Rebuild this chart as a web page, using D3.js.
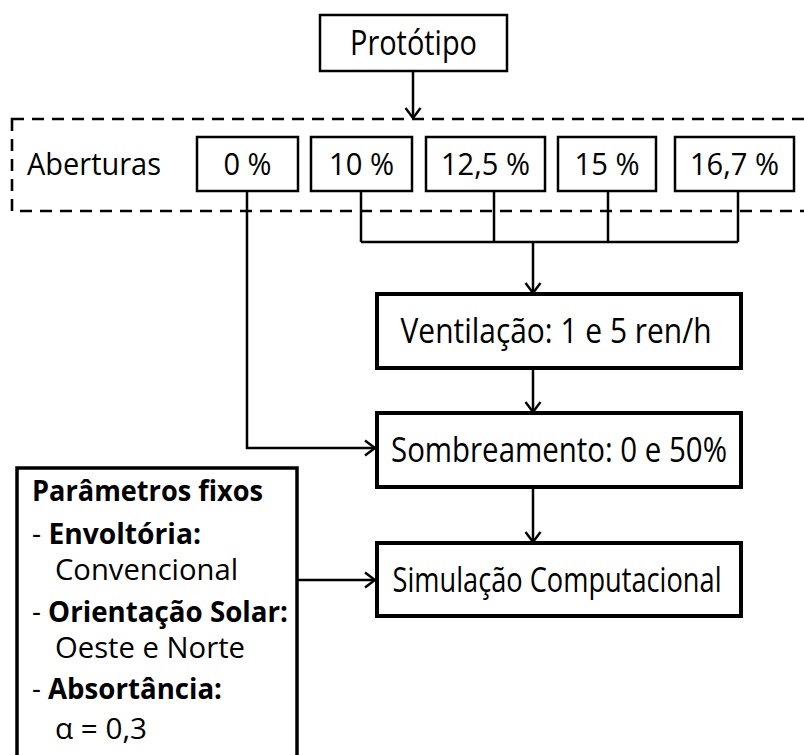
<!DOCTYPE html>
<html>
<head>
<meta charset="utf-8">
<script src="https://cdn.jsdelivr.net/npm/d3@7"></script>
<style>
  body { margin: 0; background: #fff; }
  svg { display: block; font-family: "Open Sans", "Noto Sans", sans-serif; }
</style>
</head>
<body>
<div id="diagram"></div>
<script>
// Texts of the diagram
var inicio = "Protótipo";
var grupoTitulo = "Aberturas";
var aberturas = ["0 %", "10 %", "12,5 %", "15 %", "16,7 %"];
var etapas = ["Ventilação: 1 e 5 ren/h", "Sombreamento: 0 e 50%", "Simulação Computacional"];
var parametrosTitulo = "Parâmetros fixos";
var parametrosNomes = ["Envoltória:", "Orientação Solar:", "Absortância:"];
var parametrosValores = ["Convencional", "Oeste e Norte", "α = 0,3"];

// Layout
var W = 804, H = 755;
var boxLeft = [197, 311, 426, 558, 675],
    boxRight = [298, 412, 545, 656, 794],
    boxTop = 137, boxBottom = 191,
    stemX = [247, 361, 494, 608, 738],
    labelW = [48, 65, 89, 65, 89];
var mergeY = 242, mainX = 533;
var etapaX0 = 377, etapaX1 = 741,
    etapaY = [[294, 368], [413, 487], [543, 616]],
    etapaTextW = [311, 336, 329],
    etapaCx = [556, 559, 557];
var mainSize = 35, smallSize = 31, paramSize = 29;
var cap = 0.714;

var svg = d3.select("#diagram")
    .append("svg")
    .attr("width", W)
    .attr("height", H);

svg.append("rect").attr("width", W).attr("height", H).attr("fill", "#fff");

// arrow head, open chevron
svg.append("defs").append("marker")
    .attr("id", "seta")
    .attr("markerUnits", "userSpaceOnUse")
    .attr("viewBox", "-12 -9 14 18")
    .attr("refX", 0).attr("refY", 0)
    .attr("markerWidth", 14).attr("markerHeight", 18)
    .attr("orient", "auto")
    .append("path")
    .attr("d", "M-10,-7.5L0,0L-10,7.5")
    .attr("fill", "none")
    .attr("stroke", "#000")
    .attr("stroke-width", 2.4);

function line(pts, arrow) {
  var p = svg.append("path")
      .attr("d", d3.line()(pts))
      .attr("fill", "none")
      .attr("stroke", "#000")
      .attr("stroke-width", 2.5);
  if (arrow) p.attr("marker-end", "url(#seta)");
  return p;
}

function box(x0, y0, x1, y1, sw, dash) {
  return svg.append("rect")
      .attr("x", x0).attr("y", y0)
      .attr("width", x1 - x0).attr("height", y1 - y0)
      .attr("fill", "none")
      .attr("stroke", "#000")
      .attr("stroke-width", sw)
      .attr("stroke-dasharray", dash || null);
}

function label(txt, x, y, size, len, anchor, weight) {
  return svg.append("text")
      .attr("x", x).attr("y", y)
      .attr("text-anchor", anchor || "middle")
      .attr("font-size", size)
      .attr("font-weight", weight || "normal")
      .attr("fill", "#000")
      .attr("textLength", len)
      .attr("lengthAdjust", "spacingAndGlyphs")
      .text(txt);
}

// Protótipo
box(320, 15, 507, 71, 2.5);
label(inicio, 413.5, 43 + cap * mainSize / 2, mainSize, 127);
line([[413, 71], [413, 118]], true);

// dashed group of openings
box(12, 119, 816, 211, 2.6, "12,8");
label(grupoTitulo, 27, 164 + cap * smallSize / 2, smallSize, 134, "start");

aberturas.forEach(function (a, i) {
  box(boxLeft[i], boxTop, boxRight[i], boxBottom, 2.5);
  label(a, (boxLeft[i] + boxRight[i]) / 2, (boxTop + boxBottom) / 2 + cap * smallSize / 2,
        smallSize, labelW[i]);
});

// stems of 10..16,7 % merge into one line
stemX.slice(1).forEach(function (x) {
  line([[x, boxBottom], [x, mergeY]]);
});
line([[stemX[1], mergeY], [stemX[4], mergeY]]);
line([[mainX, mergeY], [mainX, etapaY[0][0] - 1]], true);

// 0 % goes straight to shading
line([[stemX[0], boxBottom], [stemX[0], 448], [etapaX0 - 2, 448]], true);

// main steps
etapas.forEach(function (e, i) {
  box(etapaX0, etapaY[i][0], etapaX1, etapaY[i][1], 4);
  label(e, etapaCx[i], (etapaY[i][0] + etapaY[i][1]) / 2 + cap * mainSize / 2,
        mainSize, etapaTextW[i]);
  if (i > 0) line([[mainX, etapaY[i - 1][1] + 2], [mainX, etapaY[i][0] - 1]], true);
});

// fixed parameters
box(17, 468, 297, 790, 3.5);
line([[297, 580], [etapaX0 - 2, 580]], true);
label(parametrosTitulo, 32, 501, paramSize, 231, "start", "bold");

var nomeY = [544, 622, 699], valorY = [580, 658, 739],
    nomeW = [169, 256, 190], valorW = [183, 190, 92];
parametrosNomes.forEach(function (n, i) {
  var t = svg.append("text")
      .attr("x", 32).attr("y", nomeY[i])
      .attr("font-size", paramSize)
      .attr("fill", "#000")
      .attr("textLength", nomeW[i])
      .attr("lengthAdjust", "spacingAndGlyphs");
  t.append("tspan").text("- ");
  t.append("tspan").attr("font-weight", "bold").text(n);
  label(parametrosValores[i], 55, valorY[i], paramSize, valorW[i], "start");
});
</script>
</body>
</html>
